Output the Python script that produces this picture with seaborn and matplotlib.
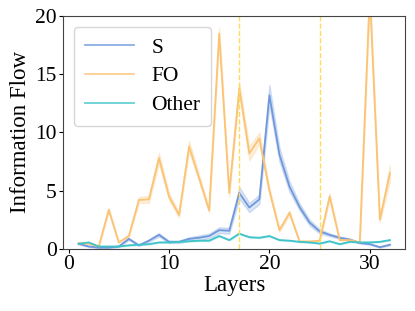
import numpy as np
import pandas as pd
import matplotlib
matplotlib.use("Agg")
import matplotlib.pyplot as plt
import seaborn as sns

# Layer indices
layers = list(range(1, 33))

# Mean information flow per layer
s_vals = [0.43, 0.2, 0.1, 0.1, 0.2, 0.85, 0.3, 0.7, 1.2, 0.6, 0.6, 0.85, 0.95, 1.1, 1.6, 1.55,
          4.8, 3.55, 4.25, 13.2, 8.1, 5.35, 3.6, 2.26, 1.5, 1.2, 0.95, 0.8, 0.5, 0.4, 0.14, 0.35]
fo_vals = [0.5, 0.45, 0.2, 3.35, 0.55, 1.1, 4.2, 4.25, 7.8, 4.5, 2.9, 8.8, 6.07, 3.3, 18.5, 4.8,
           13.8, 8.2, 9.5, 5.0, 1.6, 3.1, 0.63, 0.63, 0.7, 4.5, 0.75, 0.75, 0.55, 22.0, 2.5, 6.5]
other_vals = [0.43, 0.55, 0.2, 0.2, 0.2, 0.3, 0.35, 0.4, 0.55, 0.55, 0.6, 0.65, 0.7, 0.7, 1.1, 0.75,
              1.3, 1.0, 0.95, 1.1, 0.75, 0.7, 0.6, 0.55, 0.45, 0.65, 0.4, 0.6, 0.55, 0.55, 0.6, 0.75]

# Half-width of the shaded band per layer
s_err = [0.05, 0.05, 0.05, 0.05, 0.05, 0.1, 0.05, 0.1, 0.15, 0.1, 0.1, 0.15, 0.2, 0.2, 0.25, 0.25,
         0.5, 0.4, 0.4, 0.9, 0.6, 0.45, 0.3, 0.25, 0.2, 0.12, 0.1, 0.08, 0.06, 0.05, 0.05, 0.05]
fo_err = [0.05, 0.05, 0.05, 0.2, 0.05, 0.1, 0.25, 0.3, 0.45, 0.3, 0.2, 0.45, 0.3, 0.2, 0.5, 0.3,
          0.5, 0.6, 0.5, 0.3, 0.15, 0.2, 0.05, 0.05, 0.05, 0.3, 0.05, 0.05, 0.05, 0.8, 0.2, 0.7]
other_err = [0.03] * 32

series = {"S": (s_vals, s_err), "FO": (fo_vals, fo_err), "Other": (other_vals, other_err)}
colors = {"S": "#6f98dc", "FO": "#fbc374", "Other": "#3fc4c9"}

# long-form table: lower and upper observation per layer, mean = center
rows = []
for name, (vals, errs) in series.items():
    for l, v, e in zip(layers, vals, errs):
        rows.append({"Layer": l, "Flow": v - e, "Type": name})
        rows.append({"Layer": l, "Flow": v + e, "Type": name})
df = pd.DataFrame(rows)

plt.rcParams["font.family"] = ["Liberation Serif", "DejaVu Serif"]

fig, ax = plt.subplots(figsize=(4.15, 3.11), dpi=100)
sns.lineplot(data=df, x="Layer", y="Flow", hue="Type", palette=colors,
             errorbar=("pi", 100), linewidth=1.3, ax=ax, err_kws={"alpha": 0.25})

for xv in [17, 25]:
    ax.axvline(xv, color="#ffdb5c", linestyle="--", linewidth=1.0)

ax.set_ylim(0, 20)
ax.set_xticks([0, 10, 20, 30])
ax.set_yticks([0, 5, 10, 15, 20])
ax.set_xlabel("Layers", fontsize=16.5, labelpad=1)
ax.set_ylabel("Information Flow", fontsize=16.5, labelpad=3)
ax.tick_params(labelsize=15.5, pad=1.5, length=3)
for sp in ax.spines.values():
    sp.set_color("#444444")
    sp.set_linewidth(0.8)

leg = ax.legend(loc="upper left", fontsize=15.5, handlelength=2.3, borderpad=0.5, labelspacing=0.4)
leg.set_title(None)
for h in leg.get_lines():
    h.set_alpha(0.8)

fig.subplots_adjust(left=0.152, right=0.977, top=0.948, bottom=0.2)
fig.savefig("out.png", dpi=100)
